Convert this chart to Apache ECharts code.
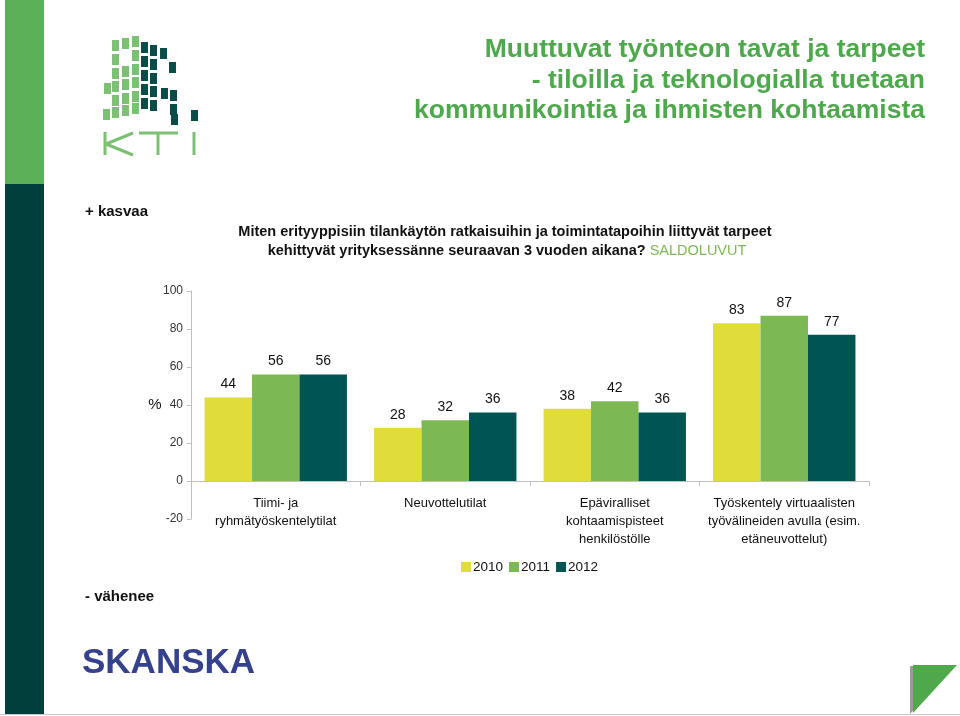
<!DOCTYPE html>
<html>
<head>
<meta charset="utf-8">
<script src="https://cdn.jsdelivr.net/npm/echarts@6/dist/echarts.min.js"></script>
<style>
html,body{margin:0;padding:0;background:#fff;}
#chart{width:960px;height:716px;}
</style>
</head>
<body>
<div id="chart"></div>
<script>
// ---- Data ----
const categories = [
  'Tiimi- ja\nryhmätyöskentelytilat',
  'Neuvottelutilat',
  'Epäviralliset\nkohtaamispisteet\nhenkilöstölle',
  'Työskentely virtuaalisten\ntyövälineiden avulla (esim.\netäneuvottelut)'
];
const years = ['2010', '2011', '2012'];
const values2010 = [44, 28, 38, 83];
const values2011 = [56, 32, 42, 87];
const values2012 = [56, 36, 36, 77];
const yTicks = { min: -20, max: 100, interval: 20 };

const titleLines = [
  'Muuttuvat työnteon tavat ja tarpeet',
  '- tiloilla ja teknologialla tuetaan',
  'kommunikointia ja ihmisten kohtaamista'
];
const questionLine1 = 'Miten erityyppisiin tilankäytön ratkaisuihin ja toimintatapoihin liittyvät tarpeet';
const questionLine2 = 'kehittyvät yrityksessänne seuraavan 3 vuoden aikana? ';
const questionTag = 'SALDOLUVUT';

const colors = ['#dfdc3c', '#7cb955', '#005451'];
const FONT = '"Liberation Sans", Arial, sans-serif';

// ---- Decorative logo (KTI) ----
const logoGreen = '#7cc073';
const logoDark = '#0a4d48';
const greenSquares = [
  [112,40],[122,38],[132,36],
  [112,54],[132,50],
  [112,68],[122,66],[132,64],
  [104,83],[112,81],[122,79],[132,77],
  [112,95],[122,93],[132,91],
  [103,109],[112,107],[122,105],[132,103]
];
const darkSquares = [
  [141,42],[150,45],[160,48],
  [141,56],[150,59],[169,62],
  [141,70],[150,73],
  [141,84],[150,86],[161,88],[170,90],
  [141,98],[150,100],[170,104],
  [171,114],[191,110]
];
const graphics = [];
// left stripe
graphics.push({type:'rect', shape:{x:5,y:0,width:39,height:184}, style:{fill:'#5cb158'}});
graphics.push({type:'rect', shape:{x:5,y:184,width:39,height:530}, style:{fill:'#00403c'}});
greenSquares.forEach(p => graphics.push({type:'rect', shape:{x:p[0],y:p[1],width:7,height:11}, style:{fill:logoGreen}}));
darkSquares.forEach(p => graphics.push({type:'rect', shape:{x:p[0],y:p[1],width:7,height:11}, style:{fill:logoDark}}));
// KTI letters
const kti = [
  [[105,132],[105,155]],
  [[106,144],[133,133]],
  [[106,144],[133,155]],
  [[139,133],[178,133]],
  [[158,133],[158,155]],
  [[194,132],[194,155]]
];
kti.forEach(l => graphics.push({type:'polyline', shape:{points:l}, style:{stroke:logoGreen, lineWidth:3, fill:null}}));

// title
titleLines.forEach((t,i) => graphics.push({type:'text', x:925, y:50 + i*30.5,
  style:{text:t, textAlign:'right', textVerticalAlign:'middle', font:'bold 26.5px ' + FONT, fill:'#4ea84c'}}));

graphics.push({type:'text', x:85, y:212, style:{text:'+ kasvaa', textVerticalAlign:'middle', font:'bold 15px ' + FONT, fill:'#111'}});
graphics.push({type:'text', x:85, y:597, style:{text:'- vähenee', textVerticalAlign:'middle', font:'bold 15px ' + FONT, fill:'#111'}});
graphics.push({type:'text', x:505, y:232, style:{text:questionLine1, textAlign:'center', textVerticalAlign:'middle', font:'bold 14.5px ' + FONT, fill:'#111'}});
graphics.push({type:'text', x:507, y:251, style:{
  text:'{a|' + questionLine2 + '}{b|' + questionTag + '}', textAlign:'center', textVerticalAlign:'middle',
  rich:{a:{font:'bold 14.5px ' + FONT, fill:'#111'}, b:{font:'14.5px ' + FONT, fill:'#7cb955'}}}});
graphics.push({type:'text', x:155, y:405, style:{text:'%', textAlign:'center', textVerticalAlign:'middle', font:'15px ' + FONT, fill:'#111'}});
// SKANSKA
graphics.push({type:'text', x:82, y:663, style:{text:'SKANSKA', textVerticalAlign:'middle', font:'bold 35px ' + FONT, fill:'#35418c'}});
// triangle
graphics.push({type:'polygon', shape:{points:[[910,666],[954,666],[910,714]]}, style:{fill:'#9a9a9a'}});
graphics.push({type:'polygon', shape:{points:[[913,665],[957,665],[913,713]]}, style:{fill:'#4fa84a'}});
graphics.push({type:'line', shape:{x1:0,y1:714.5,x2:960,y2:714.5}, style:{stroke:'#c8c8c8', lineWidth:1}});

const seriesData = [values2010, values2011, values2012];
const chart = echarts.init(document.getElementById('chart'));
chart.setOption({
  animation: false,
  color: colors,
  textStyle: { fontFamily: FONT },
  grid: { left: 191, right: 91, top: 291, bottom: 197, containLabel: false },
  legend: {
    data: years, left: 456, top: 555, itemWidth: 10, itemHeight: 10, itemGap: 6,
    icon: 'rect', textStyle: { fontSize: 13.5, color: '#111', padding: [0,0,0,-3] }
  },
  xAxis: {
    type: 'category', data: categories,
    axisLine: { onZero: true, lineStyle: { color: '#c0c0c0' } },
    axisTick: { show: true, length: 5, lineStyle: { color: '#c0c0c0' } },
    axisLabel: { interval: 0, fontSize: 13, color: '#111', lineHeight: 18, margin: -25 }
  },
  yAxis: {
    type: 'value', min: yTicks.min, max: yTicks.max, interval: yTicks.interval,
    axisLine: { show: true, lineStyle: { color: '#c0c0c0' } },
    axisTick: { show: true, length: 4, lineStyle: { color: '#c0c0c0' } },
    splitLine: { show: false },
    axisLabel: { fontSize: 12, color: '#333', margin: 8 }
  },
  series: years.map((y, i) => ({
    name: y, type: 'bar', data: seriesData[i],
    barGap: '0%', barCategoryGap: '16%',
    label: { show: true, position: 'top', distance: 6, fontSize: 14, color: '#111' }
  })),
  graphic: graphics
});
</script>
</body>
</html>
